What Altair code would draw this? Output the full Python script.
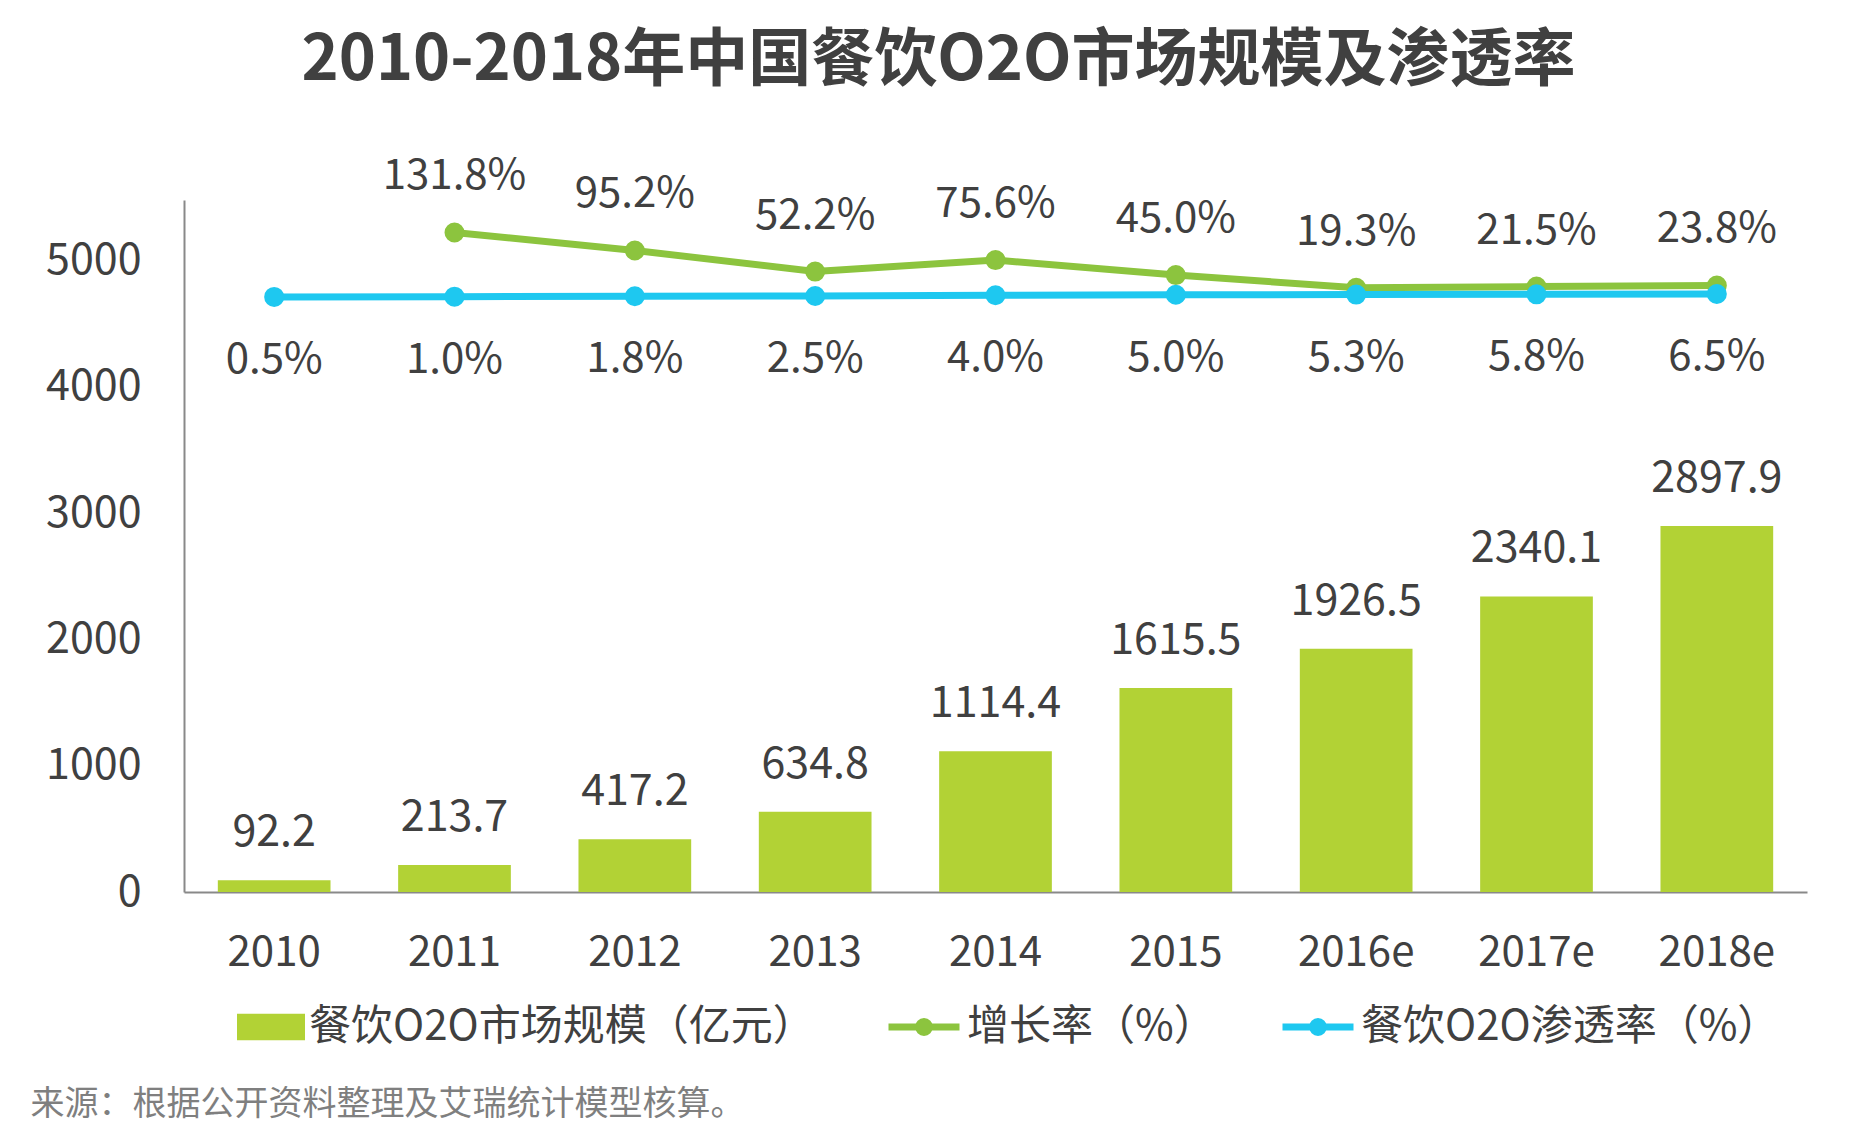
import altair as alt
import pandas as pd

# ---------------- data ----------------
years = ["2010", "2011", "2012", "2013", "2014", "2015", "2016e", "2017e", "2018e"]
market_size = [92.2, 213.7, 417.2, 634.8, 1114.4, 1615.5, 1926.5, 2340.1, 2897.9]
growth_rate = [None, 131.8, 95.2, 52.2, 75.6, 45.0, 19.3, 21.5, 23.8]
penetration = [0.5, 1.0, 1.8, 2.5, 4.0, 5.0, 5.3, 5.8, 6.5]
y_ticks = [0, 1000, 2000, 3000, 4000, 5000]

BAR_NAME = "餐饮O2O市场规模（亿元）"
GROWTH_NAME = "增长率（%）"
PEN_NAME = "餐饮O2O渗透率（%）"
TITLE = "2010-2018年中国餐饮O2O市场规模及渗透率"
SOURCE = "来源：根据公开资料整理及艾瑞统计模型核算。"

# ---------------- style ----------------
FONT = "Noto Sans CJK SC"
TEXT = "#404040"
BAR_COLOR = "#b2d235"
GREEN = "#8cc43e"
BLUE = "#1ec8f0"
AXIS_COLOR = "#898989"

bar_df = pd.DataFrame({"year": years, "value": market_size, "series": BAR_NAME})
bar_df["label"] = [f"{v:.1f}" for v in market_size]

rows = []
for yr, g in zip(years, growth_rate):
    if g is not None:
        rows.append({"year": yr, "value": g, "series": GROWTH_NAME, "label": f"{g:.1f}%"})
for yr, p in zip(years, penetration):
    rows.append({"year": yr, "value": p, "series": PEN_NAME, "label": f"{p:.1f}%"})
line_df = pd.DataFrame(rows)

x_enc = alt.X(
    "year:N",
    sort=years,
    scale=alt.Scale(paddingInner=0.375, paddingOuter=0.1875),
    axis=alt.Axis(
        title=SOURCE,
        labelAngle=0,
        labelFont=FONT,
        labelFontSize=42,
        labelColor=TEXT,
        labelPadding=40,
        domainColor=AXIS_COLOR,
        domainWidth=2,
        ticks=False,
        titleX=-154,
        titleY=212,
        titleAlign="left",
        titleBaseline="middle",
        titleFont=FONT,
        titleFontSize=34,
        titleFontWeight="normal",
        titleColor="#7f7f7f",
    ),
)

y_left_scale = alt.Scale(domain=[0, 5480], nice=False, zero=True)
y_left_axis = alt.Axis(
    values=y_ticks,
    format="d",
    title=None,
    grid=False,
    ticks=False,
    labelFont=FONT,
    labelFontSize=43,
    labelColor=TEXT,
    labelPadding=43,
    domainColor=AXIS_COLOR,
    domainWidth=2,
)

RECT_PATH = "M-1,-0.39L1,-0.39L1,0.39L-1,0.39Z"
LINE_PATH = (
    "M-1,0L1,0"
    "M0.155,0A0.155,0.155,0,1,1,-0.155,0A0.155,0.155,0,1,1,0.155,0"
    "M0.055,0A0.055,0.055,0,1,1,-0.055,0A0.055,0.055,0,1,1,0.055,0"
)

fill_legend = alt.Legend(
    title=None,
    orient="none",
    legendX=53,
    legendY=793,
    symbolType=RECT_PATH,
    symbolSize=4624,
    symbolStrokeWidth=0,
    labelFont=FONT,
    labelFontSize=42,
    labelColor=TEXT,
    labelLimit=2000,
    labelOffset=4,
    padding=0,
)

stroke_legend = alt.Legend(
    title=None,
    orient="none",
    direction="horizontal",
    legendX=701,
    legendY=788,
    symbolType=LINE_PATH,
    symbolSize=5041,
    symbolStrokeWidth=7,
    labelFont=FONT,
    labelFontSize=42,
    labelColor=TEXT,
    labelLimit=2000,
    labelOffset=4,
    columnPadding=52,
    padding=0,
)

bars = alt.Chart(bar_df).mark_bar().encode(
    x=x_enc,
    y=alt.Y("value:Q", scale=y_left_scale, axis=y_left_axis),
    fill=alt.Fill(
        "series:N",
        scale=alt.Scale(domain=[BAR_NAME], range=[BAR_COLOR]),
        legend=fill_legend,
    ),
)

bar_labels = alt.Chart(bar_df).mark_text(
    font=FONT, fontSize=43, color=TEXT, baseline="alphabetic", dy=-34
).encode(
    x=x_enc,
    y=alt.Y("value:Q", scale=y_left_scale, axis=y_left_axis),
    text="label:N",
)

y_right = alt.Y("value:Q", scale=alt.Scale(domain=[-1212, 198], nice=False, zero=False), axis=None)
stroke_enc = alt.Stroke(
    "series:N",
    scale=alt.Scale(domain=[GROWTH_NAME, PEN_NAME], range=[GREEN, BLUE]),
    legend=stroke_legend,
)


def series_layers(name, label_dy):
    base = alt.Chart(line_df).transform_filter(alt.datum.series == name)
    ln = base.mark_line(strokeWidth=7).encode(x=x_enc, y=y_right, stroke=stroke_enc)
    pt = base.mark_point(shape="circle", filled=False, size=100, strokeWidth=10, opacity=1).encode(
        x=x_enc, y=y_right, stroke=stroke_enc
    )
    tx = base.mark_text(
        font=FONT, fontSize=42, color=TEXT, baseline="alphabetic", dy=label_dy
    ).encode(x=x_enc, y=y_right, text="label:N")
    return [ln, pt, tx]


line_layer = alt.layer(*series_layers(GROWTH_NAME, -43), *series_layers(PEN_NAME, 76))
bar_layer = alt.layer(bars, bar_labels)

chart = (
    alt.layer(bar_layer, line_layer)
    .resolve_scale(y="independent")
    .properties(
        width=1623,
        height=692,
        background="white",
        autosize=alt.AutoSizeParams(type="none"),
        padding={"left": 184, "top": 200, "right": 51, "bottom": 252},
        title=alt.TitleParams(
            TITLE,
            font=FONT,
            fontSize=63,
            fontWeight="bold",
            color=TEXT,
            anchor="middle",
            dx=-57,
            baseline="alphabetic",
            offset=12,
        ),
    )
    .configure_view(stroke=None)
)

chart.save("out.html", embed_options={"renderer": "svg", "actions": False})
